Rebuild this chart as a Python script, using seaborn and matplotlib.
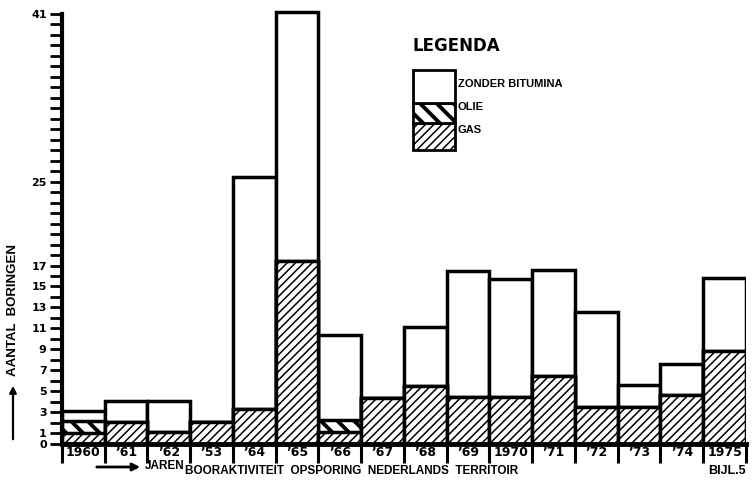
import numpy as np
import pandas as pd
import matplotlib
matplotlib.use('Agg')
import matplotlib.pyplot as plt
import seaborn as sns
from matplotlib.patches import Rectangle, FancyArrowPatch
from matplotlib.ticker import FixedLocator, FixedFormatter

# Data (number of borings per year)
years = ['1960', '\u201961', '\u201962', '\u201953', '\u201964', '\u201965', '\u201966', '\u201967',
         '\u201968', '\u201969', '1970', '\u201971', '\u201972', '\u201973', '\u201974', '1975']
gas = [1.0, 2.1, 1.1, 2.1, 3.3, 17.4, 1.1, 4.4, 5.5, 4.5, 4.5, 6.5, 3.5, 3.5, 4.6, 8.8]
olie = [1.2, 0, 0, 0, 0, 0, 1.2, 0, 0, 0, 0, 0, 0, 0, 0, 0]
zonder = [0.9, 2.0, 3.0, 0, 22.1, 23.8, 8.1, 0, 5.6, 12.0, 11.2, 10.1, 9.1, 2.1, 3.0, 7.0]
ytick_labels = {0: '0', 1: '1', 3: '3', 5: '5', 7: '7', 9: '9', 11: '11', 13: '13',
                15: '15', 17: '17', 25: '25', 41: '41'}

df = pd.DataFrame({'jaar': years, 'gas': gas, 'olie': olie, 'zonder': zonder})
df['gas_olie'] = df['gas'] + df['olie']
df['totaal'] = df['gas_olie'] + df['zonder']

sns.set_style('white')
plt.rcParams['font.family'] = ['DejaVu Sans']
plt.rcParams['font.weight'] = 'bold'
plt.rcParams['text.color'] = 'black'
plt.rcParams['axes.edgecolor'] = 'black'
plt.rcParams['xtick.color'] = 'black'
plt.rcParams['ytick.color'] = 'black'
plt.rcParams['hatch.color'] = 'black'

W, H = 752, 486
Y0, PX = 443.7, (443.7 - 14) / 41   # baseline pixel, pixels per boring
YMAX = 41.6
fig = plt.figure(figsize=(W / 100, H / 100), dpi=100)
ax = fig.add_axes([62 / W, 1 - Y0 / H, (746 - 62) / W, YMAX * PX / H])

# layer the stacks: total first, then gas+olie, then gas on top
plt.rcParams['hatch.linewidth'] = 1.1
sns.barplot(data=df, x='jaar', y='totaal', color='white', edgecolor='black',
            linewidth=2.5, width=1.0, ax=ax, saturation=1)
plt.rcParams['hatch.linewidth'] = 2.8
sns.barplot(data=df, x='jaar', y='gas_olie', color='white', edgecolor='black',
            linewidth=2.5, width=1.0, ax=ax, saturation=1, hatch='\\\\')
plt.rcParams['hatch.linewidth'] = 1.1
sns.barplot(data=df, x='jaar', y='gas', color='white', edgecolor='black',
            linewidth=2.5, width=1.0, ax=ax, saturation=1, hatch='////')

ax.set_xlim(-0.5, len(years) - 0.5)
ax.set_ylim(0, YMAX)
ax.set_xlabel('')
ax.set_ylabel('')
for s in ['top', 'right']:
    ax.spines[s].set_visible(False)
ax.spines['left'].set_linewidth(3)
ax.spines['left'].set_bounds(0, 41)
ax.spines['bottom'].set_linewidth(3.5)

yt = list(range(0, 42))
ax.yaxis.set_major_locator(FixedLocator(yt))
ax.yaxis.set_major_formatter(FixedFormatter([ytick_labels.get(v, '') for v in yt]))
ax.tick_params(axis='y', direction='out', length=9, width=2, pad=2, labelsize=8, left=True)

ax.set_xticks(range(len(years)))
ax.set_xticklabels(years, fontsize=9, fontweight='bold')
ax.set_xticks(np.arange(-0.5, len(years), 1.0), minor=True)
ax.tick_params(axis='x', which='major', length=0, pad=2)
ax.tick_params(axis='x', which='minor', direction='out', length=14, width=2.2, bottom=True)


def fx(px):
    return px / W


def fy(py):
    return 1 - py / H


# legend box
fig.text(fx(412), fy(46), 'LEGENDA', fontsize=12, fontweight='bold', va='center')
plt.rcParams['hatch.linewidth'] = 1.1
fig.patches.append(Rectangle((fx(413), fy(150)), fx(42), fy(123) - fy(150), transform=fig.transFigure,
                             facecolor='white', edgecolor='black', lw=2, hatch='////'))
plt.rcParams['hatch.linewidth'] = 2.8
fig.patches.append(Rectangle((fx(413), fy(123)), fx(42), fy(103) - fy(123), transform=fig.transFigure,
                             facecolor='white', edgecolor='black', lw=2, hatch='\\\\'))
fig.patches.append(Rectangle((fx(413), fy(103)), fx(42), fy(70) - fy(103), transform=fig.transFigure,
                             facecolor='white', edgecolor='black', lw=2))
for label, py in [('ZONDER BITUMINA', 84), ('OLIE', 107), ('GAS', 130)]:
    fig.text(fx(458), fy(py), label, fontsize=8, fontweight='bold', va='center',
             family=['Liberation Sans', 'DejaVu Sans'])

# y label with arrow
fig.add_artist(FancyArrowPatch((fx(13), fy(442)), (fx(13), fy(383)), transform=fig.transFigure,
                               arrowstyle='-|>', mutation_scale=10, lw=1.6, color='black'))
fig.text(fx(13), fy(310), 'AANTAL  BORINGEN', rotation=90, fontsize=9.5, fontweight='bold',
         ha='center', va='center', family=['Liberation Sans', 'DejaVu Sans'])

# bottom captions
fig.add_artist(FancyArrowPatch((fx(94), fy(467)), (fx(143), fy(467)), transform=fig.transFigure,
                               arrowstyle='-|>', mutation_scale=11, lw=2, color='black'))
fig.text(fx(145), fy(466), 'JAREN', fontsize=8.5, fontweight='bold', va='center',
         family=['Liberation Sans', 'DejaVu Sans'])
fig.text(fx(185), fy(471), 'BOORAKTIVITEIT  OPSPORING  NEDERLANDS  TERRITOIR', fontsize=8.5,
         fontweight='bold', va='center', family=['Liberation Sans', 'DejaVu Sans'])
fig.text(fx(746), fy(471), 'BIJL.5', fontsize=9, fontweight='bold', va='center', ha='right',
         family=['Liberation Sans', 'DejaVu Sans'])

fig.savefig('out.png', dpi=100, facecolor='white')
